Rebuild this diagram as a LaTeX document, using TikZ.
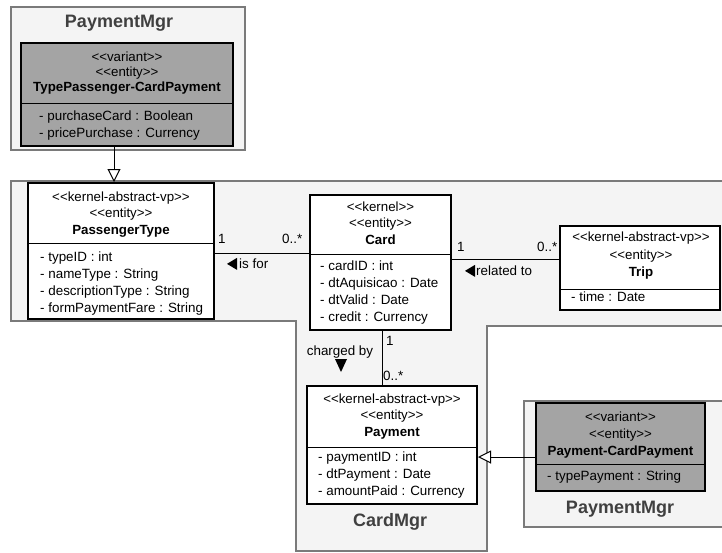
\documentclass[tikz,border=0pt]{standalone}
\usepackage{fontspec}
\setmainfont{Liberation Sans}
\usetikzlibrary{arrows.meta,calc}
\definecolor{pkgfill}{HTML}{F4F4F4}
\definecolor{pkgline}{HTML}{7A7A7A}
\definecolor{variantfill}{HTML}{A4A4A4}
\definecolor{titlegray}{HTML}{404040}
% stereotype brackets, kept apart so the font mapping does not turn them into guillemets
\newcommand\stL{<\kern0pt<}
\newcommand\stR{>\kern0pt>}
\begin{document}
\begin{tikzpicture}[x=1pt,y=-1pt,
  pkg/.style={fill=pkgfill,draw=pkgline,line width=1.5pt},
  pkgtitle/.style={font=\fontsize{18}{20}\selectfont\bfseries,text=titlegray,inner sep=0pt,anchor=mid},
  classbox/.style={draw=black,line width=2pt,fill=white,inner sep=0pt},
  variantbox/.style={classbox,fill=variantfill},
  stereo/.style={font=\fontsize{13.3}{15}\selectfont,inner sep=0pt,anchor=mid},
  cname/.style={font=\fontsize{13.3}{15}\selectfont\bfseries,inner sep=0pt,anchor=mid},
  attr/.style={font=\fontsize{13.4}{15}\selectfont,inner sep=0pt,anchor=mid west},
  lbl/.style={font=\fontsize{13.4}{15}\selectfont,inner sep=0pt,anchor=mid west},
  divider/.style={line width=1pt},
  assoc/.style={line width=1pt},
  gen/.style={line width=1pt,-{Triangle[length=13pt,width=13pt,fill=white]}}
]
\useasboundingbox (0,0) rectangle (722,552);
\clip (0,0) rectangle (722,552);

% ---------- packages ----------
\draw[pkg] (11,7) rectangle (245,150);
\draw[pkg] (11,181) -- (730,181) -- (730,326) -- (487,326) -- (487,551)
  -- (296,551) -- (296,321) -- (11,321) -- cycle;
\draw[pkg] (524,401) rectangle (730,527);

\node[pkgtitle] (pkgtop) at (119,25) {PaymentMgr};
\node[pkgtitle] (cardmgr) at (390,524) {CardMgr};
\node[pkgtitle] (pkgbot) at (620,511) {PaymentMgr};

% ---------- TypePassenger-CardPayment ----------
\node[variantbox,minimum width=212pt,minimum height=103pt] (tpcp) at (127,94.5) {};
\draw[divider] (tpcp.west |- 0,103) -- (tpcp.east |- 0,103);
\node[stereo] (tpcp-s1) at (127,59) {\stL variant\stR};
\node[stereo] (tpcp-s2) at (127,74) {\stL entity\stR};
\node[cname] (tpcp-n) at (127,89) {TypePassenger-CardPayment};
\node[attr] (tpcp-a1) at (39,118) {- purchaseCard : Boolean};
\node[attr] (tpcp-a2) at (39,135) {- pricePurchase : Currency};

% ---------- PassengerType ----------
\node[classbox,minimum width=186pt,minimum height=136pt] (ptype) at (121,251) {};
\draw[divider] (ptype.west |- 0,243) -- (ptype.east |- 0,243);
\node[stereo] (ptype-s1) at (121,199) {\stL kernel-abstract-vp\stR};
\node[stereo] (ptype-s2) at (121,215) {\stL entity\stR};
\node[cname] (ptype-n) at (121,232) {PassengerType};
\node[attr] (ptype-a1) at (40,259) {- typeID : int};
\node[attr] (ptype-a2) at (40,276) {- nameType : String};
\node[attr] (ptype-a3) at (40,293) {- descriptionType : String};
\node[attr] (ptype-a4) at (40,310) {- formPaymentFare : String};

% ---------- Card ----------
\node[classbox,minimum width=141pt,minimum height=135pt] (card) at (380.5,262.5) {};
\draw[divider] (card.west |- 0,254) -- (card.east |- 0,254);
\node[stereo] (card-s1) at (380.5,209) {\stL kernel\stR};
\node[stereo] (card-s2) at (380.5,225) {\stL entity\stR};
\node[cname] (card-n) at (380.5,242) {Card};
\node[attr] (card-a1) at (320,268) {- cardID : int};
\node[attr] (card-a2) at (320,285) {- dtAquisicao : Date};
\node[attr] (card-a3) at (320,302) {- dtValid : Date};
\node[attr] (card-a4) at (320,319) {- credit : Currency};

% ---------- Trip ----------
\node[classbox,minimum width=160pt,minimum height=84pt] (trip) at (640,268) {};
\draw[divider] (trip.west |- 0,289) -- (trip.east |- 0,289);
\node[stereo] (trip-s1) at (641,239) {\stL kernel-abstract-vp\stR};
\node[stereo] (trip-s2) at (641,257) {\stL entity\stR};
\node[cname] (trip-n) at (641,274) {Trip};
\node[attr] (trip-a1) at (571,299) {- time : Date};

% ---------- Payment ----------
\node[classbox,minimum width=170pt,minimum height=118pt] (payment) at (392,445) {};
\draw[divider] (payment.west |- 0,447) -- (payment.east |- 0,447);
\node[stereo] (pay-s1) at (392,401) {\stL kernel-abstract-vp\stR};
\node[stereo] (pay-s2) at (392,417) {\stL entity\stR};
\node[cname] (pay-n) at (392,434) {Payment};
\node[attr] (pay-a1) at (318,459) {- paymentID : int};
\node[attr] (pay-a2) at (318,476) {- dtPayment : Date};
\node[attr] (pay-a3) at (318,493) {- amountPaid : Currency};

% ---------- Payment-CardPayment ----------
\node[variantbox,minimum width=169pt,minimum height=88pt] (pcp) at (620.5,447) {};
\draw[divider] (pcp.west |- 0,464) -- (pcp.east |- 0,464);
\node[stereo] (pcp-s1) at (620.5,419) {\stL variant\stR};
\node[stereo] (pcp-s2) at (620.5,436) {\stL entity\stR};
\node[cname] (pcp-n) at (620.5,453) {Payment-CardPayment};
\node[attr] (pcp-a1) at (547,478) {- typePayment : String};

% ---------- generalizations ----------
\draw[gen] (tpcp.south -| 114,0) -- (ptype.north -| 114,0);
\draw[gen] (pcp.west |- 0,457) -- (payment.east |- 0,457);

% ---------- associations ----------
\draw[assoc] (ptype.east |- 0,253) -- (card.west |- 0,253);
\node[lbl] (m-pt) at (218,241) {1};
\node[lbl] (m-pc) at (282,241) {0..*};
\node[lbl] (isfor) at (239,266) {is for};
\fill ($(isfor.west)+(-2,-6)$) -- ($(isfor.west)+(-2,6)$) -- ($(isfor.west)+(-12,0)$) -- cycle;

\draw[assoc] (card.east |- 0,259) -- (trip.west |- 0,259);
\node[lbl] (m-ct) at (457,249) {1};
\node[lbl] (m-tc) at (537,249) {0..*};
\node[lbl] (relto) at (476,273) {related to};
\fill ($(relto.west)+(-1,-6)$) -- ($(relto.west)+(-1,6)$) -- ($(relto.west)+(-11,0)$) -- cycle;

\draw[assoc] (card.south -| 382,0) -- (payment.north -| 382,0);
\node[lbl] (m-cp) at (386,343) {1};
\node[lbl] (m-pyc) at (383,378) {0..*};
\node[lbl,anchor=mid] (charged) at (340,353) {charged by};
\fill ($(charged.mid)+(-5,6)$) -- ($(charged.mid)+(7,6)$) -- ($(charged.mid)+(1,19)$) -- cycle;
\end{tikzpicture}
\end{document}
